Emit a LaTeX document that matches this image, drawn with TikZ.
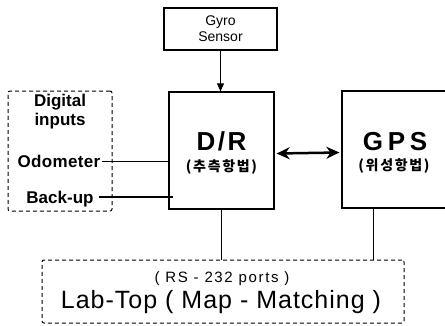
\documentclass[tikz,border=0pt]{standalone}
\usepackage{fontspec}
\setmainfont{Liberation Sans}
\newfontfamily\kr[LetterSpace=12]{Noto Sans CJK KR}
\newfontfamily\spdr[LetterSpace=10]{Liberation Sans}
\newfontfamily\spgps[LetterSpace=18]{Liberation Sans}
\newfontfamily\sprs[LetterSpace=11]{Liberation Sans}
\newfontfamily\spodo[LetterSpace=2]{Liberation Sans}
\newfontfamily\splab[LetterSpace=4]{Liberation Sans}
\usetikzlibrary{arrows.meta}
\begin{document}
\begin{tikzpicture}[x=1pt,y=-1pt,
  solidbox/.style={draw, line width=1.3pt, inner sep=0pt},
  dashbox/.style={draw, line width=1pt, dash pattern=on 4pt off 3pt, inner sep=0pt, rounded corners=2pt},
  label/.style={inner sep=0pt, align=center},
  wire/.style={line width=0.8pt}]
\useasboundingbox (0,0) rectangle (445,325);
\clip (0,0) rectangle (445,325);
% boxes
\node[solidbox, minimum width=113pt, minimum height=42pt] (gyro) at (220.5,29) {};
\node[solidbox, minimum width=105pt, minimum height=117pt] (dr) at (221.5,150.5) {};
\node[solidbox, minimum width=110pt, minimum height=117pt] (gps) at (397,149.5) {};
\node[dashbox, minimum width=104pt, minimum height=120pt] (dig) at (60,151) {};
\node[dashbox, minimum width=362pt, minimum height=63pt] (lab) at (223,291.5) {};
% texts
\node[label, font=\fontsize{14}{16}\selectfont] (gyrotxt) at (220.5,29) {Gyro\\Sensor};
\node[label, font=\bfseries\fontsize{17}{19}\selectfont] (digtxt) at (60,112) {Digital\\inputs};
\node[label, font=\spodo\bfseries\fontsize{17}{19}\selectfont] (odo) at (59,161) {Odometer};
\node[label, font=\bfseries\fontsize{17}{19}\selectfont] (back) at (60,199) {Back-up};
\node[label, font=\spdr\bfseries\fontsize{26}{28}\selectfont] (drtxt) at (221.5,141) {D/R};
\node[label, font=\kr\bfseries\fontsize{14}{16}\selectfont] (drkr) at (221.5,167) {(추측항법)};
\node[label, font=\spgps\bfseries\fontsize{26}{28}\selectfont] (gpstxt) at (395,142) {GPS};
\node[label, font=\kr\bfseries\fontsize{14}{16}\selectfont] (gpskr) at (394,166) {(위성항법)};
\node[label, font=\sprs\fontsize{15}{17}\selectfont] (rs) at (222,279) {( RS - 232 ports )};
\node[label, font=\splab\fontsize{25}{28}\selectfont] (labtxt) at (221,302) {Lab-Top ( Map - Matching )};
% connectors
\draw[wire, -{Triangle[length=8pt,width=7pt]}] (gyro.south) -- (gyro.south |- dr.north);
\draw[line width=2.5pt, {Stealth[length=13pt,width=12pt]}-{Stealth[length=13pt,width=12pt]}] ([xshift=2pt,yshift=-3pt]dr.east) -- ([xshift=-2pt,yshift=-3pt]gps.west);
\draw[line width=0.6pt] ([xshift=1pt]odo.east) -- ([xshift=1pt]odo.east -| dr.west);
\draw[line width=1.4pt] ([xshift=5pt,yshift=2pt]back.east) -- ([xshift=5pt,yshift=2pt]back.east -| dr.west);
\draw[wire] (dr.south) -- (dr.south |- lab.north);
\draw[wire] ([xshift=-24pt]gps.south) -- ([xshift=-24pt]gps.south |- lab.north);
\end{tikzpicture}
\end{document}
